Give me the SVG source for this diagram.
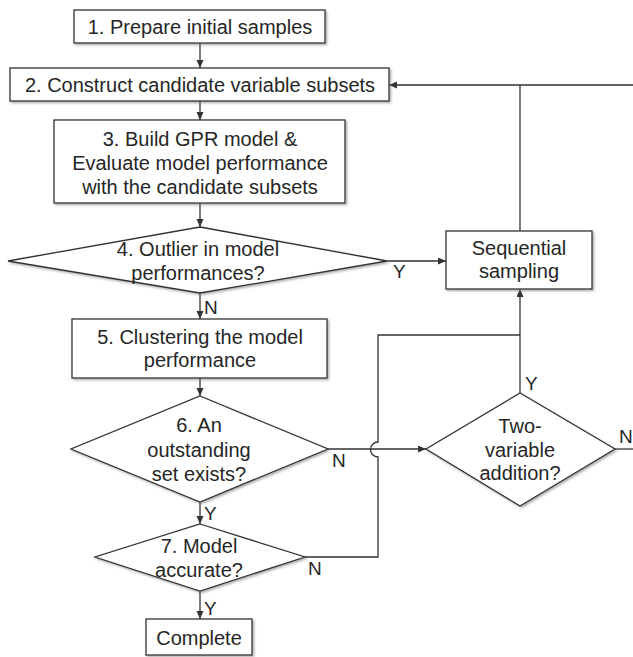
<svg xmlns="http://www.w3.org/2000/svg" width="633" height="657" viewBox="0 0 633 657">
<style>
.n{fill:#fff;stroke:#333;stroke-width:1.3;filter:url(#sh)}
.t{font-family:"Liberation Sans",Arial,sans-serif;font-size:20px;fill:#262626;text-anchor:middle}
.l{font-family:"Liberation Sans",Arial,sans-serif;font-size:19px;fill:#262626}
.c{fill:none;stroke:#333;stroke-width:1.3}
.a{marker-end:url(#ah)}
</style>
<defs>
<filter id="sh" x="-10%" y="-10%" width="120%" height="130%">
<feDropShadow dx="1.5" dy="1.5" stdDeviation="1" flood-color="#777" flood-opacity="0.6"/>
</filter>
<marker id="ah" markerUnits="userSpaceOnUse" markerWidth="9" markerHeight="8" refX="8" refY="3.5" orient="auto">
<path d="M0,0 L8,3.5 L0,7 z" fill="#333"/>
</marker>
</defs>
<rect width="633" height="657" fill="#fff"/>
<g id="connectors">
<path class="c a" d="M200,43 V68"/>
<path class="c a" d="M200,101 V120"/>
<path class="c a" d="M200,203 V227"/>
<path class="c a" d="M200,293 V319"/>
<path class="c a" d="M200,378 V396"/>
<path class="c a" d="M200,502 V524"/>
<path class="c a" d="M200,591 V619"/>
<path class="c a" d="M387,261 H446"/>
<path class="c a" d="M633,85 H389"/>
<path class="c" d="M520,231 V85"/>
<path class="c a" d="M328,449 H426"/>
<path class="c" d="M305,557 H378 V457 A7.5,7.5 0 0 1 378,442 V335 H520"/>
<path class="c a" d="M520,393 V289"/>
<path class="c" d="M615,449 H633"/>
<text class="l" x="393" y="278">Y</text>
<text class="l" x="204" y="314">N</text>
<text class="l" x="332" y="467">N</text>
<text class="l" x="204" y="520">Y</text>
<text class="l" x="308" y="575">N</text>
<text class="l" x="204" y="615">Y</text>
<text class="l" x="525" y="390">Y</text>
<text class="l" x="619" y="443">N</text>
</g>
<g id="n1">
<rect class="n" x="74" y="10" width="251" height="33"/>
<text class="t" x="200" y="34">1. Prepare initial samples</text>
</g>
<g id="n2">
<rect class="n" x="10" y="68" width="379" height="33"/>
<text class="t" x="200" y="92">2. Construct candidate variable subsets</text>
</g>
<g id="n3">
<rect class="n" x="54" y="120" width="291" height="83"/>
<text class="t" x="200" y="146">3. Build GPR model &amp;</text>
<text class="t" x="200" y="170">Evaluate model performance</text>
<text class="t" x="200" y="194">with the candidate subsets</text>
</g>
<g id="n4">
<polygon class="n" points="200,227 387,261 200,293 8,261"/>
<text class="t" x="198" y="256">4. Outlier in model</text>
<text class="t" x="198" y="280">performances?</text>
</g>
<g id="n5">
<rect class="n" x="72" y="319" width="255" height="59"/>
<text class="t" x="200" y="344">5. Clustering the model</text>
<text class="t" x="200" y="367">performance</text>
</g>
<g id="n6">
<polygon class="n" points="200,396 328,449 200,502 71,449"/>
<text class="t" x="199" y="432">6. An</text>
<text class="t" x="199" y="457">outstanding</text>
<text class="t" x="199" y="481">set exists?</text>
</g>
<g id="n7">
<polygon class="n" points="200,524 305,557 200,591 95,557"/>
<text class="t" x="199" y="553">7. Model</text>
<text class="t" x="199" y="577">accurate?</text>
</g>
<g id="n8">
<rect class="n" x="146" y="619" width="106" height="36"/>
<text class="t" x="199" y="645">Complete</text>
</g>
<g id="n9">
<rect class="n" x="446" y="231" width="146" height="58"/>
<text class="t" x="519" y="255">Sequential</text>
<text class="t" x="519" y="278">sampling</text>
</g>
<g id="n10">
<polygon class="n" points="520,393 615,449 520,506 426,449"/>
<text class="t" x="520" y="433">Two-</text>
<text class="t" x="520" y="457">variable</text>
<text class="t" x="520" y="480">addition?</text>
</g>
</svg>
